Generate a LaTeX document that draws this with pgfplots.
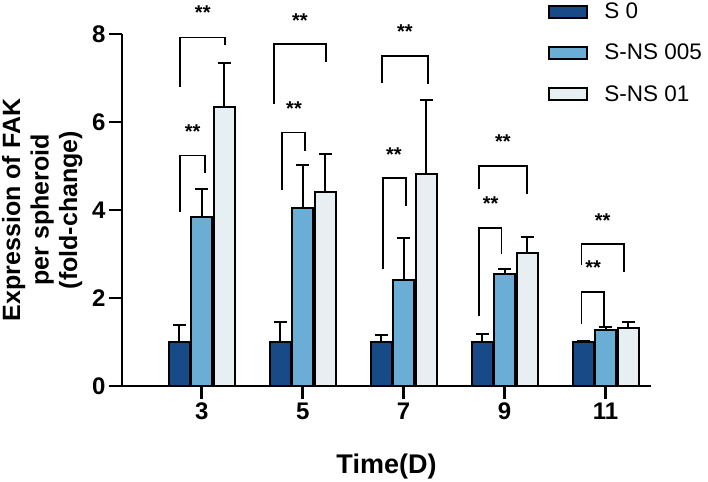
\documentclass[border=0pt]{standalone}
\usepackage{pgfplots}
\pgfplotsset{compat=1.18}
\usepackage{fontspec}
\setmainfont{Liberation Sans}
\definecolor{cdark}{HTML}{174A87}
\definecolor{cmid}{HTML}{6AAED6}
\definecolor{clight}{HTML}{E7EFF3}
\begin{document}
\begin{tikzpicture}
\useasboundingbox (-122pt,-95pt) rectangle (586pt,386pt);
\begin{axis}[
  scale only axis,
  width=529pt, height=352pt,
  xmin=-0.79, xmax=4.45,
  ymin=0, ymax=8,
  clip=false,
  ybar, bar width=21pt,
  axis x line*=bottom, axis y line*=left,
  axis line style={line width=2.8pt, black},
  every tick/.style={line width=2.8pt, black},
  tick align=outside,
  major tick length=13pt,
  xtick={0,1,2,3,4},
  xticklabels={3,5,7,9,11},
  ytick={0,2,4,6,8},
  /pgf/number format/assume math mode=true,
  tick label style={font=\fontsize{24}{28}\selectfont\bfseries},
  xlabel={Time(D)},
  xlabel style={font=\fontsize{27}{32}\selectfont\bfseries, at={(axis description cs:0.5,0)}, anchor=base, yshift=-87pt},
  ylabel={Expression of FAK\\per spheroid\\(fold-change)},
  ylabel style={font=\fontsize{25}{28.5}\selectfont\bfseries, align=center, at={(axis description cs:-0.151,0.5)}, anchor=center, rotate=0},
  legend cell align=left,
  legend style={draw=none, fill=none, at={(0.80,1.10)}, anchor=north west,
    font=\fontsize{22.5}{27}\selectfont, row sep=20pt,
    /tikz/every odd column/.style={column sep=14pt}},
  error bars/y dir=plus, error bars/y explicit,
  error bars/error bar style={line width=2pt, black},
  error bars/error mark options={rotate=90, mark size=6.5pt, line width=2pt, black},
]
\addplot[bar shift=-22.5pt, fill=cdark, draw=black, line width=2pt,
  legend image code/.code={\draw[fill=cdark, draw=black, line width=2pt] (0pt,-6pt) rectangle (38pt,6pt);}]
  coordinates {(0,1.0) +- (0,0.39) (1,1.0) +- (0,0.46) (2,1.0) +- (0,0.17) (3,1.0) +- (0,0.18) (4,1.0) +- (0,0.03)};
\addlegendentry{S 0}
\addplot[bar shift=0pt, fill=cmid, draw=black, line width=2pt,
  legend image code/.code={\draw[fill=cmid, draw=black, line width=2pt] (0pt,-6pt) rectangle (38pt,6pt);}]
  coordinates {(0,3.85) +- (0,0.63) (1,4.05) +- (0,0.98) (2,2.42) +- (0,0.94) (3,2.54) +- (0,0.11) (4,1.27) +- (0,0.06)};
\addlegendentry{S-NS 005}
\addplot[bar shift=22.5pt, fill=clight, draw=black, line width=2pt,
  legend image code/.code={\draw[fill=clight, draw=black, line width=2pt] (0pt,-6pt) rectangle (38pt,6pt);}]
  coordinates {(0,6.33) +- (0,1.02) (1,4.42) +- (0,0.85) (2,4.82) +- (0,1.68) (3,3.02) +- (0,0.37) (4,1.32) +- (0,0.14)};
\addlegendentry{S-NS 01}
% brackets
\pgfplotsset{brk/.style={forget plot, sharp plot, mark=none, black, line width=1.8pt, fill=none, error bars/y dir=none}}
\addplot[brk] coordinates {(-0.215,3.96) (-0.215,5.24) (0.03,5.24) (0.03,4.83)};
\addplot[brk] coordinates {(-0.215,6.79) (-0.215,7.92) (0.234,7.92) (0.234,7.75)};
\addplot[brk] coordinates {(0.795,4.45) (0.795,5.76) (1.026,5.76) (1.026,5.35)};
\addplot[brk] coordinates {(0.715,6.40) (0.715,7.78) (1.23,7.78) (1.23,7.36)};
\addplot[brk] coordinates {(1.795,2.65) (1.795,4.72) (2.02,4.72) (2.02,4.09)};
\addplot[brk] coordinates {(1.789,6.88) (1.789,7.5) (2.244,7.5) (2.244,6.86)};
\addplot[brk] coordinates {(2.746,1.58) (2.746,3.6) (2.97,3.6) (2.97,2.99)};
\addplot[brk] coordinates {(2.746,4.47) (2.746,5.0) (3.218,5.0) (3.218,4.36)};
\addplot[brk] coordinates {(3.762,1.40) (3.762,2.13) (3.986,2.13) (3.986,1.35)};
\addplot[brk] coordinates {(3.762,2.75) (3.762,3.22) (4.181,3.22) (4.181,2.6)};
% stars
\tikzset{star/.style={anchor=base, yshift=-11.5pt, inner sep=0pt, font=\fontsize{20}{24}\selectfont\bfseries}}
\node[star] at (axis cs:-0.09,5.89) {**};
\node[star] at (axis cs:0.01,8.58) {**};
\node[star] at (axis cs:0.914,6.41) {**};
\node[star] at (axis cs:0.973,8.42) {**};
\node[star] at (axis cs:1.904,5.36) {**};
\node[star] at (axis cs:2.013,8.15) {**};
\node[star] at (axis cs:2.861,4.25) {**};
\node[star] at (axis cs:2.983,5.65) {**};
\node[star] at (axis cs:3.877,2.80) {**};
\node[star] at (axis cs:3.97,3.87) {**};
\end{axis}
\end{tikzpicture}
\end{document}
